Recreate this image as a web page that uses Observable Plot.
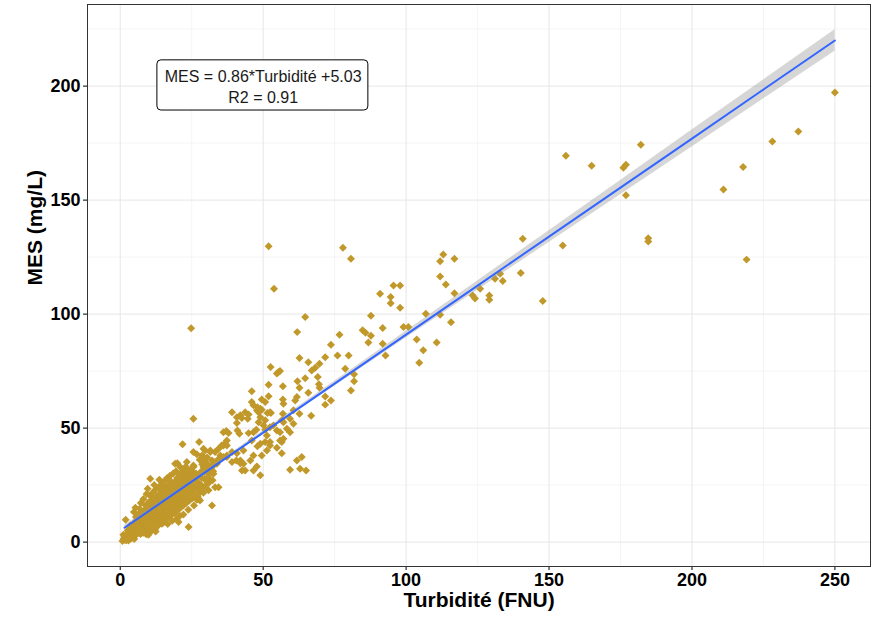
<!DOCTYPE html>
<html>
<head>
<meta charset="utf-8">
<script src="https://cdn.jsdelivr.net/npm/d3@7"></script>
<script src="https://cdn.jsdelivr.net/npm/@observablehq/plot@0.6"></script>
<style>
  html, body { margin: 0; padding: 0; background: white; }
</style>
</head>
<body>
<div id="chart"></div>
<script>
// ---- Data ----
const xTitle = "Turbidité (FNU)";
const yTitle = "MES (mg/L)";
const xTicks = [0, 50, 100, 150, 200, 250];
const yTicks = [0, 50, 100, 150, 200];
const xMinor = [25, 75, 125, 175, 225];
const yMinor = [25, 75, 125, 175, 225];

// observations [Turbidité, MES]
const obs = [
  // high turbidity
  [250,197.2],[237.2,180.1],[228.1,175.7],[217.9,164.5],[211,154.7],[219.1,123.9],[184.7,133.3],[184.7,131.8],
  [182.1,174.3],[176.9,152.1],[176,164.2],[176.9,165.5],[164.9,165.1],[155.9,169.5],[154.8,130.1],[147.8,105.7],
  [140.8,133.1],[140.1,118],[133.8,114.5],[132.9,117.7],[131.1,115.5],[129.1,108.2],[129.1,106.3],[125.9,111.1],
  [124.1,106.8],[123.3,108.2],[116.9,109.2],[115.7,96.4],[111.9,99.7],[106.9,100.2],[116.9,124.3],[113,126.2],
  [111.9,123.2],[111.9,116.5],[113.9,113],[97.9,112.6],[97.9,102.8],[99.1,94.3],[100.8,94.3],
  // middle
  [51.9,129.8],[53.8,111.1],[77.9,129.1],[80.7,124.3],[64.7,98.7],[61.9,92.1],[62.7,80.7],[52.6,76.8],
  [55.4,74.6],[54.8,73.9],[51.9,69],[46,66.2],[56.9,68.4],[62,70.5],[64.7,71.9],[67,75.3],[68.2,76.5],
  [69.7,78.2],[71.7,81.1],[73.7,86.6],[76.7,91],[76,81.8],[79.9,81.8],[78.7,76],[81.8,73.6],[81.8,70.5],
  [80.7,66.5],[73.7,62.1],[71.7,60.3],[71.7,63.9],[69.5,69.2],[69.7,67.7],[69.1,72.4],[65.8,65.5],[62.7,67.7],
  [61.8,63.6],[61.2,62.1],[62.7,56.3],[66.8,55.4],[60.6,57.8],[59.4,54.1],[56.9,56.3],[57.1,60.7],[56.9,62.5],
  [52.7,56.6],[50.7,53.4],[51.9,64],[50.7,61.4],[49,58.5],[47.8,57.8],[46.6,60],[46,61.4],[43.7,57],[42,55.6],
  [40.8,52.2],[39.1,57],[44.9,56],[48.4,52.6],[57.1,52.6],[50.1,51.2],[52.4,50.4],[55.9,75],[65.8,78.9],
  [90.9,108.9],[94.6,107.5],[94.6,104.8],[95.6,112.6],[87.7,99.3],[91.8,93.9],[84.8,92.9],[85.8,91.8],
  [87.7,90.5],[86.8,87.6],[91.8,87],[92.8,81.9],[103.7,88.9],[106,84.1],[104.6,78.7],[110.7,87.6],
  // lower middle
  [24.8,93.8],[25.6,54.1],[21.8,42.9],[27.6,43.9],[40.8,54.8],[42.5,54.4],[44.6,54.1],[41.7,47.5],[44.9,47.8],
  [37.1,48.7],[37.9,47.8],[36.7,43.4],[37.3,42.4],[31.5,40.2],[29.1,41],[41,49],[46.6,48.2],[47.6,49.3],
  [50.7,49.3],[53.6,51.2],[60.6,51.9],[56.5,43.9],[59.4,48.2],[51.3,46.8],[50.7,43.9],[52.4,42.4],[48,42],
  [46.6,38],[49.5,38],[47.8,33.2],[43.7,31.4],[42,35.8],[49,29.3],[51.3,40.2],[54.8,49],[55.9,44.6],[63.5,37.3],
  [65,31.4],[25.6,39.5],[26.8,38.5],[28.6,38],[29.7,40.2],[31.5,39.5],[33.2,39.5],[35,38],[36.1,42.4],
  [37.3,44.6],[39.1,39.5],[40.8,39],[42,34.6],[39.1,35.1],[37.3,37.3],[29.7,32.2],[32.6,30],[31.5,27.1],
  [33.2,24.1],[34.4,24.1],[30.9,22.7],[27.4,19],[28,24.1],[26.2,27.1],[24.5,31.4],[23.3,35.1],[21,32.9],
  [19.2,34.4],[32.1,16.1],[23.9,6.6],[20.4,8.8],[29.1,37.3],[34.4,40.9],[35.5,42.4],[37.3,38],[34.4,36.5],
  [32.1,35.8],[30.3,34.4],[29.1,32.9],[25.6,33.6],[32.1,32.9],[33.8,34.4],[36.1,37.3],[36.1,48.2],[46,44.6],
  [49,43.1],[43.1,40.2],[40.6,35.8],[43.1,34.4],[45.5,35.8],[42.6,31.4],[46.6,31.4],[48.4,57],[49.5,58],
  [49.5,62.5],[48,59.2],[49,54.8],[51.5,56.6],[52.4,57],[56.5,53.4],[55.9,48.2],[58.3,49.7],[57.1,45.3],
  [52.4,43.9],[54.8,41.4],[56.5,39],[59.4,31.7],[62.9,32.2],[61.8,35.8],
  // dense cluster, low turbidity
  [0.8,0.5],[1.2,1.5],[1.5,2.6],[1.1,3.2],[1.7,0.9],[1.9,9.8],[2.1,0.8],[2.3,2.1],[2.4,3.6],[2.6,5.1],[2.2,1.3],
  [2.9,0.7],[3.1,2.4],[3.3,4.1],[3.4,6],[3.6,7.4],[3.2,3.1],[3.8,1.6],[4.1,2.2],[4.3,3.5],[4.5,5.2],[4.2,6.6],
  [4.7,8.1],[4.9,1.4],[5.1,2.9],[5.3,4.4],[5.2,6.1],[5.6,7.6],[5.4,9.2],[5.8,3.6],[5.5,11],[6.1,3.9],[6.3,5.6],
  [6.2,7.1],[6.5,8.4],[6.7,10.1],[6.4,12.2],[6.9,4.6],[7.1,3.5],[7.3,5.1],[7.2,6.4],[7.5,8.1],[7.4,9.6],
  [7.7,11.1],[7.6,13.2],[7.9,7.2],[8.1,4.1],[8.3,6.2],[8.2,7.5],[8.5,9.1],[8.4,10.6],[8.7,12.1],[8.6,14.2],
  [8.9,16.1],[8.8,8.3],[9.1,3.4],[9.3,5.6],[9.2,7.1],[9.5,8.6],[9.4,10.1],[9.7,11.6],[9.6,13.1],[9.9,15.2],
  [9.8,17.4],[9.9,3.2],[10.1,4.6],[10.3,6.5],[10.2,8.1],[10.5,9.6],[10.4,11.1],[10.7,12.6],[10.6,14.1],
  [10.9,16.2],[10.8,18.1],[10.5,20.2],[11.1,5.1],[11.3,7.1],[11.2,9.1],[11.5,10.6],[11.4,12.1],[11.7,13.6],
  [11.6,15.1],[11.9,17.2],[11.8,19.1],[11.3,21.6],[10.5,27.8],[12.1,5.6],[12.3,8.1],[12.2,10.1],[12.5,11.6],
  [12.4,13.1],[12.7,14.6],[12.6,16.1],[12.9,18.2],[12.8,20.1],[12.4,23.1],[13.1,7.1],[13.3,9.1],[13.2,11.1],
  [13.5,12.6],[13.4,14.1],[13.7,15.6],[13.6,17.1],[13.9,19.1],[13.8,21.2],[13.4,24.1],[13.7,27.4],[14.1,10.1],
  [14.6,8.1],[14.3,12.1],[14.2,13.6],[14.5,15.1],[14.4,16.6],[14.7,18.1],[14.6,20.2],[14.9,22.6],[14.3,25.1],
  [15.1,8.6],[15.3,11.1],[15.2,13.1],[15.5,14.6],[15.4,16.1],[15.7,17.6],[15.6,19.6],[15.9,21.6],[15.8,24.1],
  [15.3,26.6],[16.1,10.1],[16.3,12.1],[16.2,14.1],[16.5,15.6],[16.4,17.1],[16.7,18.6],[16.6,20.6],[16.9,22.6],
  [16.8,25.1],[16.4,28.1],[17.1,11.1],[17.3,13.1],[17.2,15.1],[17.5,16.6],[17.4,18.1],[17.7,20.1],[17.6,22.1],
  [17.9,24.1],[17.8,26.6],[17.4,29.1],[18.1,12.1],[18.3,14.1],[18.2,16.1],[18.5,17.6],[18.4,19.6],[18.7,21.6],
  [18.6,23.6],[18.9,26.1],[18.5,30.1],[19.1,12.6],[19.3,15.1],[19.2,17.1],[19.5,19.1],[19.4,21.1],[19.7,23.1],
  [19.6,25.6],[19.9,28.1],[19.5,31.1],[20.1,14.1],[20.3,16.1],[20.2,18.6],[20.5,20.6],[20.4,22.6],[20.7,24.6],
  [20.6,27.1],[20.9,29.6],[20,34.6],[21.1,15.1],[21.3,17.6],[21.2,20.1],[21.5,22.1],[21.4,24.1],[21.7,26.1],
  [21.6,28.6],[21.9,31.1],[22.1,16.1],[22.3,19.1],[22.2,21.6],[22.5,23.6],[22.4,25.6],[22.7,28.1],[22.6,30.6],
  [22.9,33.1],[23.1,17.1],[23.3,20.1],[23.2,22.6],[23.5,25.1],[23.4,27.1],[23.7,29.6],[23.6,32.1],[24.1,18.1],
  [24.3,21.1],[24.2,24.1],[24.5,26.6],[24.4,29.1],[25.1,19.1],[25.3,22.6],[25.2,25.1],[25.5,28.1],[25.4,30.6],
  [25.7,33.1],[26.1,21.1],[26.3,24.1],[26.5,30.1],[26.8,18.6],[27.1,20.1],[27.3,23.1],[27.2,26.1],[27.5,29.1],
  [27.8,36.1],[28.1,22.1],[28.3,25.1],[28.5,28.1],[28.4,31.1],[28.7,34.1],[29.1,21.6],[29.3,24.1],[29.5,27.6],
  [29.4,30.6],[29.8,35.1],[30.1,24.9],[30.3,28.1],[30.5,31.1],[30.4,37.1],[31.1,26.1],[31.3,29.6],[31.5,33.1],
  [32.3,27.1],[32.5,31.1],[32.8,35.1],[4.8,13.2],[5.3,15.1],[6.8,14.6],[7.2,17.1],[8.1,18.9],[9.2,21.1],
  [9.6,23.4],[11.9,25.1],[19.8,10.2],[20.9,11.6],[22.1,12.1],[23.8,14.2],[25.8,16.1],[27.9,18.2],[18.2,9.4],
  [16.6,7.9],[12.4,4.6]
];

// fitted line and its confidence band
const fitX     = [1.5, 25, 50, 75, 100, 125, 150, 175, 200, 225, 250];
const fitY     = [6.3, 26.5, 48, 69.5, 91, 112.5, 134, 155.5, 177, 198.5, 220];
const fitLower = [5.2, 25.8, 47.2, 68.4, 89.5, 110.5, 131.4, 152.4, 173.3, 194.3, 215.3];
const fitUpper = [7.4, 27.2, 48.8, 70.6, 92.5, 114.5, 136.6, 158.6, 180.7, 202.7, 224.7];

// annotation box (data coordinates)
const annotText = ["MES = 0.86*Turbidité +5.03\nR2 = 0.91"];
const annotX = [50], annotY = [200];
const annotX1 = [13], annotX2 = [86.8], annotY1 = [189.3], annotY2 = [211.3];

const fit = fitX.map((x, i) => ({x, y: fitY[i], lo: fitLower[i], hi: fitUpper[i]}));
const annot = annotText.map((t, i) => ({t, x: annotX[i], y: annotY[i], x1: annotX1[i], x2: annotX2[i], y1: annotY1[i], y2: annotY2[i]}));

const plot = Plot.plot({
  width: 876,
  height: 617,
  marginLeft: 87,
  marginRight: 6,
  marginTop: 4,
  marginBottom: 51,
  style: {
    fontFamily: "'Liberation Sans', Arial, sans-serif",
    fontSize: "18px",
    fontWeight: "bold",
    color: "black",
    background: "white"
  },
  x: {domain: [-11.45, 262.45], ticks: xTicks, tickSize: 4, tickPadding: 3, label: null},
  y: {domain: [-10.7, 235.8], ticks: yTicks, tickSize: 4, tickPadding: 3, label: null},
  marks: [
    Plot.ruleX(xMinor, {stroke: "#eeeeee", strokeWidth: 0.6}),
    Plot.ruleY(yMinor, {stroke: "#eeeeee", strokeWidth: 0.6}),
    Plot.ruleX(xTicks, {stroke: "#e6e6e6", strokeWidth: 1}),
    Plot.ruleY(yTicks, {stroke: "#e6e6e6", strokeWidth: 1}),
    Plot.dot(obs, {x: d => d[0], y: d => d[1], symbol: "diamond2", r: 3.6, fill: "#C1982A", stroke: "none"}),
    Plot.areaY(fit, {x: "x", y1: "lo", y2: "hi", fill: "#999999", fillOpacity: 0.4}),
    Plot.line(fit, {x: "x", y: "y", stroke: "#3366FF", strokeWidth: 2}),
    Plot.rect(annot, {x1: "x1", x2: "x2", y1: "y1", y2: "y2", fill: "white", stroke: "black", strokeWidth: 1, rx: 4}),
    Plot.text(annot, {x: "x", y: "y", text: "t", fontSize: 16, fontWeight: "normal", lineHeight: 1.3, fill: "#1a1a1a"}),
    Plot.text([xTitle], {text: d => d, frameAnchor: "bottom", dy: 40, fontSize: 21, fontWeight: "bold"}),
    Plot.text([yTitle], {text: d => d, frameAnchor: "left", rotate: -90, dx: -52, fontSize: 21, fontWeight: "bold"}),
    Plot.frame({stroke: "#333333", strokeWidth: 1})
  ]
});
document.getElementById("chart").appendChild(plot);
</script>
</body>
</html>
